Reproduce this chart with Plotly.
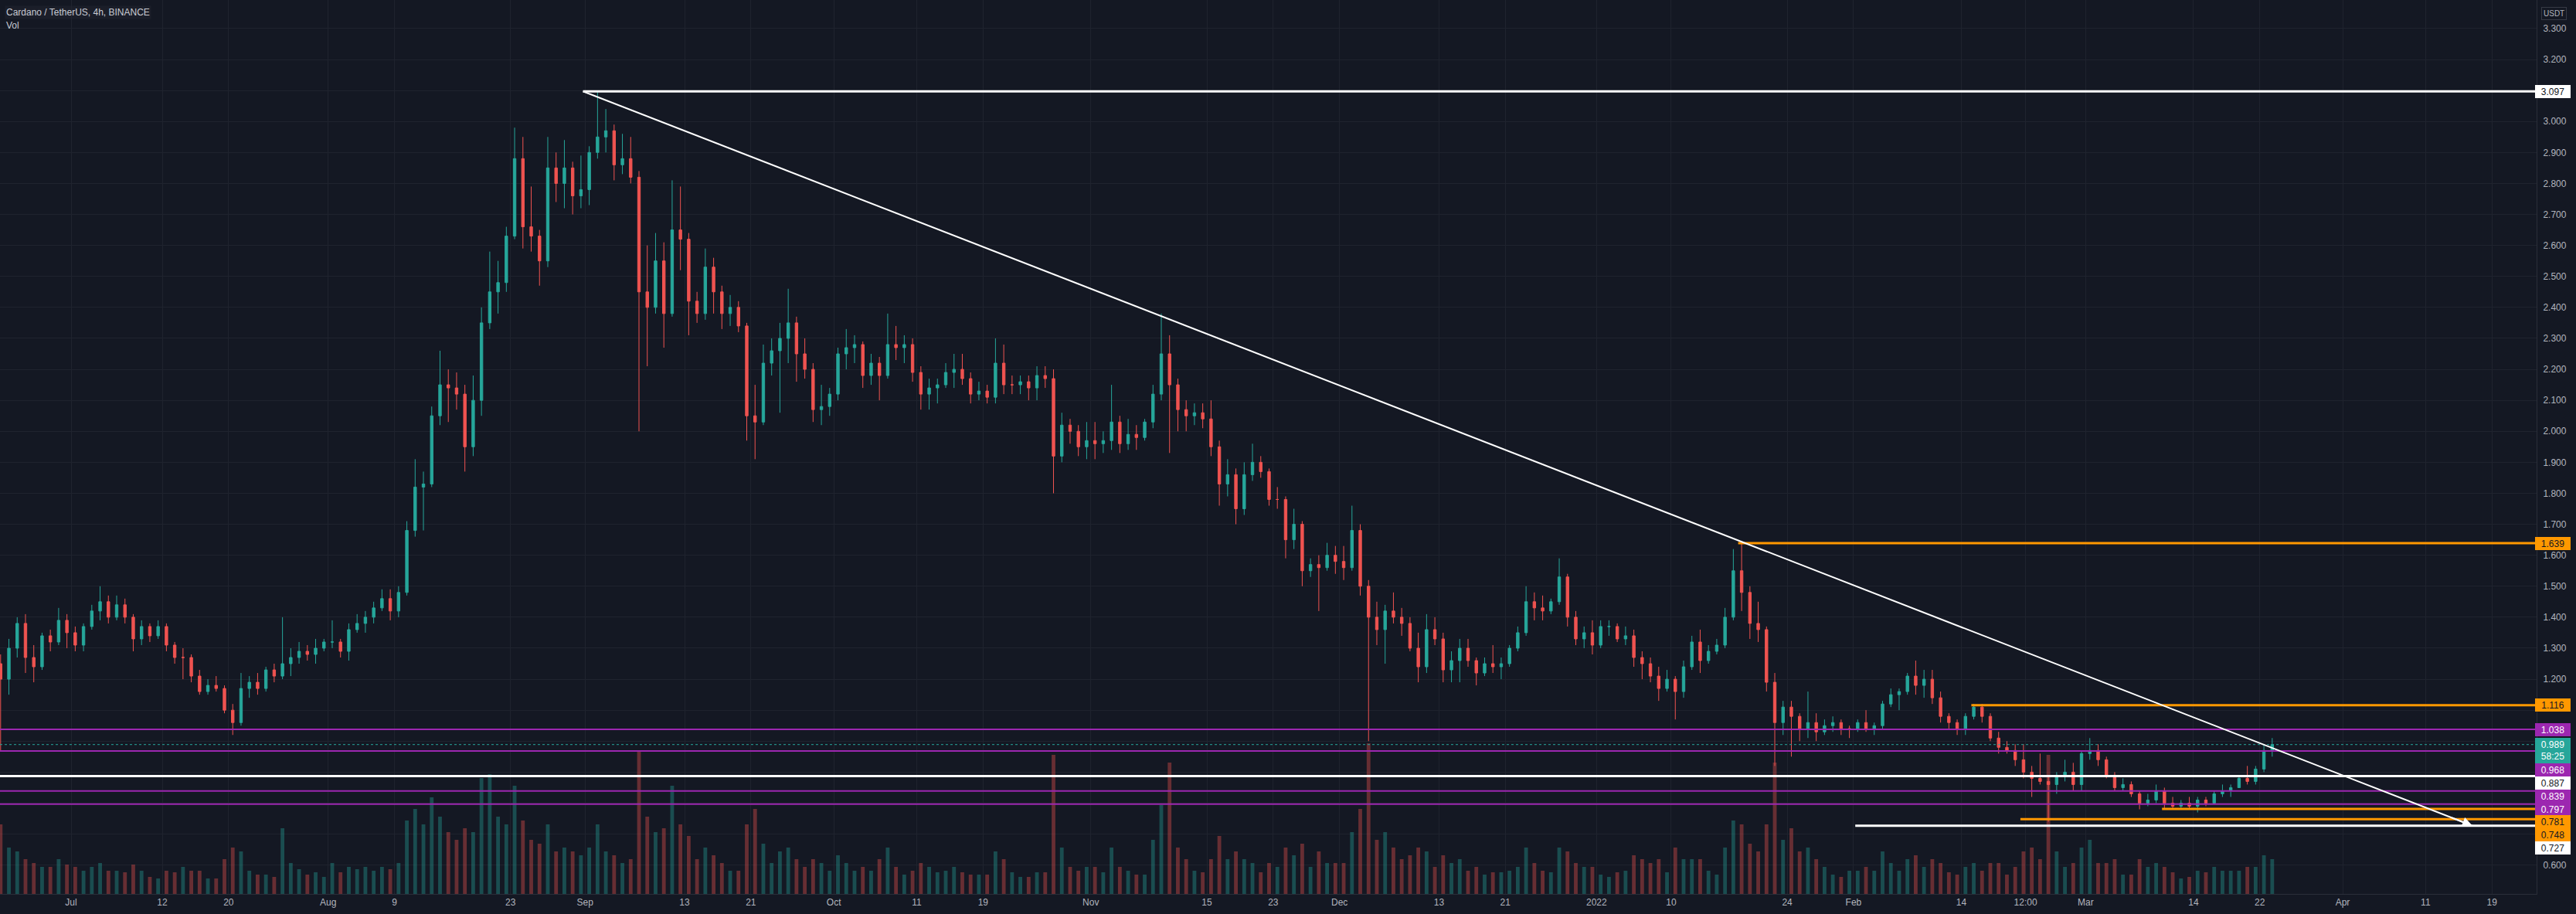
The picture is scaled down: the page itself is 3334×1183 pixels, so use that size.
import pandas as pd
import plotly.graph_objects as go

# ---------------- data (daily OHLC, volume = relative bar height) ----------------
jun21 = [(1.25,1.28,0.97,1.20,90),(1.20,1.33,1.15,1.30,60),(1.30,1.40,1.27,1.38,55),(1.38,1.41,1.22,1.27,45),
         (1.27,1.31,1.19,1.24,40),(1.24,1.35,1.23,1.34,35),(1.34,1.36,1.29,1.32,35),(1.32,1.43,1.31,1.39,45),
         (1.39,1.41,1.30,1.35,38)]
jul21 = [(1.35,1.37,1.29,1.31,35),(1.31,1.38,1.29,1.37,30),(1.37,1.44,1.36,1.42,35),(1.42,1.50,1.39,1.45,40),
         (1.45,1.47,1.38,1.40,30),(1.40,1.47,1.39,1.44,30),(1.44,1.46,1.38,1.40,28),(1.40,1.41,1.29,1.33,38),
         (1.33,1.39,1.31,1.37,30),(1.37,1.38,1.32,1.34,22),(1.34,1.39,1.33,1.37,20),(1.37,1.38,1.29,1.31,30),
         (1.31,1.32,1.25,1.27,28),(1.27,1.30,1.20,1.27,35),(1.27,1.28,1.19,1.21,30),(1.21,1.23,1.15,1.16,30),
         (1.16,1.20,1.15,1.18,20),(1.18,1.21,1.16,1.17,20),(1.17,1.18,1.09,1.10,45),(1.10,1.12,1.02,1.06,60),
         (1.06,1.22,1.05,1.17,55),(1.17,1.21,1.14,1.19,30),(1.19,1.22,1.15,1.17,25),(1.17,1.24,1.16,1.23,25),
         (1.23,1.25,1.19,1.21,22),(1.21,1.40,1.20,1.25,85),(1.25,1.30,1.21,1.27,40),(1.27,1.32,1.25,1.29,32),
         (1.29,1.31,1.26,1.28,25),(1.28,1.33,1.25,1.30,28),(1.30,1.33,1.29,1.32,22)]
aug21 = [(1.32,1.39,1.30,1.32,40),(1.32,1.33,1.27,1.29,28),(1.29,1.38,1.26,1.36,35),(1.36,1.41,1.35,1.38,32),
         (1.38,1.42,1.35,1.40,35),(1.40,1.45,1.38,1.43,30),(1.43,1.49,1.42,1.46,35),(1.46,1.49,1.39,1.42,32),
         (1.42,1.50,1.40,1.48,40),(1.48,1.71,1.47,1.68,95),(1.68,1.91,1.66,1.82,110),(1.82,1.87,1.68,1.83,90),
         (1.83,2.08,1.82,2.05,125),(2.05,2.26,2.02,2.15,100),(2.15,2.20,2.03,2.14,80),(2.14,2.19,2.07,2.12,70),
         (2.12,2.15,1.87,1.95,85),(1.95,2.18,1.92,2.10,80),(2.10,2.40,2.05,2.35,150),(2.35,2.58,2.33,2.45,155),
         (2.45,2.55,2.38,2.48,100),(2.48,2.66,2.45,2.63,90),(2.63,2.98,2.62,2.88,140),(2.88,2.95,2.59,2.66,95),
         (2.66,2.79,2.58,2.63,70),(2.63,2.65,2.47,2.55,65),(2.55,2.95,2.53,2.85,90),(2.85,2.90,2.74,2.80,55),
         (2.80,2.94,2.72,2.85,60),(2.85,2.87,2.70,2.76,55),(2.76,2.89,2.72,2.78,50)]
sep21 = [(2.78,2.92,2.73,2.90,60),(2.90,3.10,2.88,2.95,90),(2.95,3.04,2.90,2.97,55),(2.97,2.99,2.81,2.86,50),
         (2.86,2.96,2.83,2.88,40),(2.88,2.95,2.80,2.82,45),(2.82,2.84,2.00,2.45,185),(2.45,2.60,2.21,2.40,100),
         (2.40,2.64,2.38,2.55,80),(2.55,2.61,2.27,2.38,85),(2.38,2.81,2.37,2.65,140),(2.65,2.79,2.52,2.62,90),
         (2.62,2.64,2.31,2.42,75),(2.42,2.45,2.35,2.38,45),(2.38,2.59,2.36,2.53,60),(2.53,2.56,2.38,2.45,50),
         (2.45,2.47,2.33,2.38,40),(2.38,2.44,2.34,2.40,30),(2.40,2.42,2.32,2.34,30),(2.34,2.35,1.97,2.05,90),
         (2.05,2.15,1.91,2.03,110),(2.03,2.28,2.02,2.22,65),(2.22,2.30,2.18,2.26,40),(2.26,2.35,2.06,2.30,55),
         (2.30,2.46,2.22,2.35,60),(2.35,2.37,2.16,2.25,45),(2.25,2.30,2.17,2.20,35),(2.20,2.22,2.03,2.07,45),
         (2.07,2.15,2.02,2.08,40),(2.08,2.14,2.05,2.12,30)]
oct21 = [(2.12,2.27,2.10,2.25,50),(2.25,2.33,2.20,2.27,40),(2.27,2.31,2.22,2.28,30),(2.28,2.29,2.14,2.18,35),
         (2.18,2.25,2.15,2.22,30),(2.22,2.24,2.10,2.18,45),(2.18,2.38,2.17,2.28,60),(2.28,2.34,2.23,2.27,35),
         (2.27,2.31,2.22,2.28,25),(2.28,2.30,2.16,2.19,30),(2.19,2.21,2.07,2.12,40),(2.12,2.17,2.07,2.14,35),
         (2.14,2.17,2.09,2.15,28),(2.15,2.22,2.14,2.19,30),(2.19,2.25,2.14,2.20,35),(2.20,2.25,2.15,2.17,28),
         (2.17,2.19,2.09,2.12,25),(2.12,2.16,2.10,2.13,25),(2.13,2.15,2.09,2.11,25),(2.11,2.30,2.09,2.22,55),
         (2.22,2.28,2.12,2.15,45),(2.15,2.18,2.12,2.15,28),(2.15,2.18,2.12,2.16,22),(2.16,2.18,2.10,2.14,22),
         (2.14,2.21,2.10,2.18,28),(2.18,2.21,2.14,2.17,28),(2.17,2.20,1.80,1.92,180),(1.92,2.06,1.90,2.02,60),
         (2.02,2.04,1.96,2.00,35),(2.00,2.02,1.92,1.95,30),(1.95,2.03,1.91,1.97,35)]
nov21 = [(1.97,2.03,1.91,1.96,35),(1.96,2.00,1.93,1.97,28),(1.97,2.15,1.94,2.03,60),(2.03,2.05,1.93,1.96,35),
         (1.96,2.04,1.94,1.99,30),(1.99,2.02,1.94,1.98,25),(1.98,2.04,1.97,2.03,25),(2.03,2.15,2.01,2.12,70),
         (2.12,2.38,2.10,2.25,115),(2.25,2.31,1.93,2.15,170),(2.15,2.17,2.00,2.07,60),(2.07,2.10,2.00,2.05,45),
         (2.05,2.09,2.02,2.06,30),(2.06,2.09,2.01,2.04,28),(2.04,2.10,1.92,1.95,45),(1.95,1.97,1.76,1.83,75),
         (1.83,1.91,1.79,1.86,45),(1.86,1.88,1.70,1.75,55),(1.75,1.90,1.73,1.86,45),(1.86,1.96,1.84,1.90,40),
         (1.90,1.92,1.85,1.87,28),(1.87,1.88,1.76,1.78,40),(1.78,1.82,1.75,1.78,35),(1.78,1.79,1.59,1.65,60),
         (1.65,1.75,1.62,1.70,50),(1.70,1.71,1.50,1.55,65),(1.55,1.59,1.53,1.57,35),(1.57,1.60,1.42,1.56,55),
         (1.56,1.64,1.55,1.60,40),(1.60,1.63,1.54,1.58,40)]
dec21 = [(1.58,1.63,1.52,1.56,40),(1.56,1.76,1.55,1.68,80),(1.68,1.70,1.47,1.50,110),(1.50,1.52,1.00,1.40,195),
         (1.40,1.45,1.31,1.36,70),(1.36,1.44,1.25,1.42,80),(1.42,1.48,1.38,1.40,60),(1.40,1.43,1.34,1.38,45),
         (1.38,1.40,1.29,1.30,50),(1.30,1.35,1.19,1.24,60),(1.24,1.41,1.22,1.36,55),(1.36,1.40,1.31,1.33,35),
         (1.33,1.35,1.19,1.23,50),(1.23,1.29,1.19,1.26,40),(1.26,1.33,1.19,1.30,45),(1.30,1.33,1.24,1.26,30),
         (1.26,1.27,1.18,1.22,35),(1.22,1.27,1.21,1.25,25),(1.25,1.31,1.22,1.24,28),(1.24,1.27,1.20,1.25,28),
         (1.25,1.31,1.24,1.30,30),(1.30,1.37,1.29,1.35,35),(1.35,1.50,1.34,1.45,60),(1.45,1.48,1.39,1.43,40),
         (1.43,1.47,1.39,1.42,30),(1.42,1.46,1.41,1.45,28),(1.45,1.59,1.44,1.53,60),(1.53,1.54,1.37,1.40,55),
         (1.40,1.42,1.31,1.33,40),(1.33,1.37,1.30,1.35,35),(1.35,1.39,1.28,1.31,35)]
jan22 = [(1.31,1.39,1.30,1.37,25),(1.37,1.39,1.34,1.37,22),(1.37,1.38,1.32,1.33,28),(1.33,1.37,1.31,1.34,30),
         (1.34,1.36,1.24,1.27,50),(1.27,1.29,1.20,1.25,45),(1.25,1.27,1.19,1.21,40),(1.21,1.24,1.13,1.17,45),
         (1.17,1.23,1.16,1.20,28),(1.20,1.21,1.07,1.16,60),(1.16,1.26,1.14,1.24,45),(1.24,1.34,1.23,1.32,45),
         (1.32,1.36,1.22,1.26,45),(1.26,1.31,1.25,1.29,30),(1.29,1.33,1.28,1.31,25),(1.31,1.43,1.30,1.40,60),
         (1.40,1.62,1.39,1.55,95),(1.55,1.64,1.42,1.48,90),(1.48,1.50,1.33,1.38,65),(1.38,1.45,1.32,1.36,55),
         (1.36,1.37,1.16,1.19,90),(1.19,1.22,0.92,1.06,170),(1.06,1.13,1.02,1.11,70),(1.11,1.13,0.95,1.08,85),
         (1.08,1.09,1.00,1.04,55),(1.04,1.16,1.01,1.06,60),(1.06,1.09,1.00,1.03,45),(1.03,1.07,1.02,1.05,35),
         (1.05,1.08,1.03,1.06,25),(1.06,1.07,1.02,1.04,22),(1.04,1.05,1.01,1.04,30)]
feb22 = [(1.04,1.07,1.03,1.06,30),(1.06,1.10,1.03,1.04,35),(1.04,1.06,1.02,1.05,30),(1.05,1.13,1.04,1.12,55),
         (1.12,1.17,1.11,1.15,40),(1.15,1.17,1.10,1.16,30),(1.16,1.22,1.15,1.21,45),(1.21,1.26,1.15,1.18,50),
         (1.18,1.23,1.14,1.20,35),(1.20,1.23,1.12,1.14,45),(1.14,1.16,1.06,1.08,40),(1.08,1.09,1.04,1.06,28),
         (1.06,1.07,1.02,1.04,25),(1.04,1.09,1.02,1.08,35),(1.08,1.12,1.07,1.11,40),(1.11,1.12,1.06,1.08,30),
         (1.08,1.09,1.00,1.01,40),(1.01,1.03,0.96,0.98,40),(0.98,1.00,0.96,0.97,25),(0.97,0.99,0.92,0.94,35),
         (0.94,0.99,0.88,0.90,55),(0.90,0.92,0.82,0.88,60),(0.88,0.96,0.86,0.87,45),(0.87,0.89,0.74,0.86,180),
         (0.86,0.90,0.83,0.89,55),(0.89,0.94,0.87,0.90,35),(0.90,0.93,0.84,0.86,40),(0.86,0.97,0.84,0.96,60)]
mar22 = [(0.96,1.01,0.94,0.97,70),(0.97,0.99,0.92,0.94,40),(0.94,0.95,0.88,0.89,40),(0.89,0.90,0.84,0.85,45),
         (0.85,0.88,0.84,0.86,25),(0.86,0.87,0.82,0.83,25),(0.83,0.84,0.78,0.80,45),(0.80,0.83,0.79,0.81,35),
         (0.81,0.86,0.80,0.84,40),(0.84,0.85,0.78,0.80,35),(0.80,0.82,0.78,0.79,28),(0.79,0.81,0.78,0.80,20),
         (0.80,0.82,0.78,0.79,22),(0.79,0.82,0.77,0.81,30),(0.81,0.82,0.79,0.80,28),(0.80,0.84,0.80,0.83,35),
         (0.83,0.86,0.82,0.84,30),(0.84,0.86,0.82,0.85,30),(0.85,0.89,0.85,0.88,30),(0.88,0.92,0.86,0.87,35),
         (0.87,0.92,0.86,0.91,35),(0.91,0.99,0.90,0.97,50),(0.97,1.01,0.95,0.989,45)]

month_starts = ["2021-06-22", "2021-07-01", "2021-08-01", "2021-09-01", "2021-10-01",
                "2021-11-01", "2021-12-01", "2022-01-01", "2022-02-01", "2022-03-01"]
month_rows = [jun21, jul21, aug21, sep21, oct21, nov21, dec21, jan22, feb22, mar22]

# drawn levels (price, colour, start time; None = from the left edge)
level_prices = [3.097, 1.639, 1.116, 1.038, 0.968, 0.887, 0.839, 0.797, 0.781, 0.748, 0.727]
level_colors = ["white", "orange", "orange", "purple", "purple", "white", "purple", "purple",
                "orange", "orange", "white"]
level_starts = ["2021-08-31 18:00", "2022-01-18 02:00", "2022-02-15 05:00", None, None, None,
                None, None, "2022-03-10 05:00", "2022-02-21 03:00", "2022-02-01 05:00"]
last_price = 0.989
countdown = "58:25"
trend_start = ("2021-08-31 18:00", 3.097)
trend_end = ("2022-04-16 15:30", 0.727)

x_tick_dates = ["2021-07-01", "2021-07-12", "2021-07-20", "2021-08-01", "2021-08-09", "2021-08-23",
                "2021-09-01", "2021-09-13", "2021-09-21", "2021-10-01", "2021-10-11", "2021-10-19",
                "2021-11-01", "2021-11-15", "2021-11-23", "2021-12-01", "2021-12-13", "2021-12-21",
                "2022-01-01", "2022-01-10", "2022-01-24", "2022-02-01", "2022-02-14", "2022-02-21 18:00",
                "2022-03-01", "2022-03-14", "2022-03-22", "2022-04-01", "2022-04-11", "2022-04-19"]
x_tick_text = ["Jul", "12", "20", "Aug", "9", "23", "Sep", "13", "21", "Oct", "11", "19", "Nov", "15",
               "23", "Dec", "13", "21", "2022", "10", "24", "Feb", "14", "12:00", "Mar", "14", "22",
               "Apr", "11", "19"]
y_tick_vals = [round(0.6 + 0.1 * i, 1) for i in range(28)]
y_hidden_labels = [0.7, 0.8, 0.9, 1.0, 1.1]   # covered by the price badges on the axis

# ---------------- build series ----------------
dates, op, hi, lo, cl, vol = [], [], [], [], [], []
for start, rows in zip(month_starts, month_rows):
    d0 = pd.Timestamp(start)
    for i, (o_, h_, l_, c_, v_) in enumerate(rows):
        dates.append(d0 + pd.Timedelta(days=i, hours=12))
        op.append(o_); hi.append(h_); lo.append(l_); cl.append(c_); vol.append(v_)

UP = "#26a69a"
DN = "#ef5350"
BG = "#141823"
GRID = "#1f232e"
TXT = "#b2b5be"
COL = {"white": "#ffffff", "orange": "#ff9800", "purple": "#9c27b0"}
FONT = "Liberation Sans, Arial"

W, H = 3334, 1183
ML, MR, MT, MB = 0, 51, 0, 26
PW, PH = W - ML - MR, H - MT - MB
YTOP, YBOT = 3.392, 0.507
x_left = pd.Timestamp("2021-07-01") - pd.Timedelta(days=8.574)
x_right = pd.Timestamp("2021-07-01") + pd.Timedelta(days=297.39)

fig = go.Figure()
vcolors = ["rgba(38,166,154,0.38)" if c_ >= o_ else "rgba(239,83,80,0.38)" for o_, c_ in zip(op, cl)]
fig.add_trace(go.Bar(x=dates, y=vol, yaxis="y2", marker_color=vcolors, marker_line_width=0,
                     width=0.45 * 86400000, hoverinfo="skip"))
fig.add_trace(go.Candlestick(x=dates, open=op, high=hi, low=lo, close=cl,
                             increasing=dict(line=dict(color=UP, width=1), fillcolor=UP),
                             decreasing=dict(line=dict(color=DN, width=1), fillcolor=DN),
                             whiskerwidth=0))

shapes = []
shapes.append(dict(type="line", xref="x", yref="y", x0=x_left, x1=x_right, y0=last_price, y1=last_price,
                   line=dict(color=UP, width=1, dash="dot"), layer="above"))
for p, cname, st in zip(level_prices, level_colors, level_starts):
    w = 2 if cname == "purple" else 3
    shapes.append(dict(type="line", xref="x", yref="y", x0=(x_left if st is None else st), x1=x_right,
                       y0=p, y1=p, line=dict(color=COL[cname], width=w), layer="above"))
shapes.append(dict(type="line", xref="x", yref="y", x0=trend_start[0], y0=trend_start[1],
                   x1=trend_end[0], y1=trend_end[1], line=dict(color="white", width=2), layer="above"))

annotations = []
annotations.append(dict(x=trend_end[0], y=trend_end[1], xref="x", yref="y", ax=-28, ay=-11,
                        axref="pixel", ayref="pixel", showarrow=True, arrowhead=2, arrowsize=1.3,
                        arrowwidth=2, arrowcolor="white", text=""))

def py(v):
    return (YTOP - v) / (YTOP - YBOT) * PH

def val(pix):
    return YTOP - pix / PH * (YTOP - YBOT)

badges = [(p, c) for p, c in zip(level_prices, level_colors)] + [(last_price, "teal")]
badges.sort(key=lambda b: -b[0])
prev_bottom = -1e9
BH = 16.8
for p, cname in badges:
    if cname == "teal":
        top_off, bot_off = 8.4, 24.6
    else:
        top_off, bot_off = BH / 2, BH / 2
    anchor = max(py(p), prev_bottom + top_off)
    prev_bottom = anchor + bot_off
    centre = anchor + (bot_off - top_off) / 2
    if cname == "teal":
        txt, bg, fc, hgt = f"{p:.3f}<br>{countdown}", UP, "white", 31
    else:
        bg = COL[cname]
        fc = "white" if cname == "purple" else "#131722"
        txt, hgt = f"{p:.3f}", 15
    annotations.append(dict(x=1, xref="paper", xanchor="left", xshift=-2, y=val(centre), yref="y",
                            yanchor="middle", text=txt, showarrow=False, bgcolor=bg, width=44, height=hgt,
                            borderpad=1, borderwidth=0, align="center",
                            font=dict(family=FONT, size=12, color=fc)))

annotations.append(dict(x=1, xref="paper", xanchor="left", xshift=6, y=1, yref="paper", yanchor="top",
                        yshift=-9, text="USDT", showarrow=False, bordercolor="#363a45", borderwidth=1,
                        borderpad=2, bgcolor=BG, font=dict(family=FONT, size=10, color=TXT)))
annotations.append(dict(x=6 / PW, xref="paper", xanchor="left", y=1 - 16 / PH, yref="paper", yanchor="middle",
                        text="Cardano / TetherUS, 4h, BINANCE", showarrow=False, bgcolor="rgba(32,36,48,0.55)",
                        borderpad=1, font=dict(family=FONT, size=12, color="#c9ccd4")))
annotations.append(dict(x=6 / PW, xref="paper", xanchor="left", y=1 - 33 / PH, yref="paper", yanchor="middle",
                        text="Vol", showarrow=False, borderpad=1,
                        font=dict(family=FONT, size=12, color="#c9ccd4")))

y_tick_text = ["" if v in y_hidden_labels else f"{v:.3f}" for v in y_tick_vals]

fig.update_layout(
    width=W, height=H, margin=dict(l=ML, r=MR, t=MT, b=MB, pad=0),
    paper_bgcolor=BG, plot_bgcolor=BG, showlegend=False, boxgap=0.55,
    font=dict(family=FONT, size=12, color=TXT),
    xaxis=dict(type="date", range=[x_left, x_right], tickvals=x_tick_dates, ticktext=x_tick_text,
               showgrid=True, gridcolor=GRID, gridwidth=1, rangeslider=dict(visible=False),
               showline=True, linecolor="#2a2e39", ticks="", tickfont=dict(size=12, color=TXT),
               zeroline=False, fixedrange=True),
    yaxis=dict(side="right", range=[YBOT, YTOP], tickvals=y_tick_vals,
               ticktext=y_tick_text, showgrid=True, gridcolor=GRID,
               showline=True, linecolor="#2a2e39", ticks="", ticklabelstandoff=5,
               tickfont=dict(size=12, color=TXT), zeroline=False),
    yaxis2=dict(overlaying="y", range=[0, PH], visible=False),
    shapes=shapes, annotations=annotations,
)

fig.write_html("out.html")
